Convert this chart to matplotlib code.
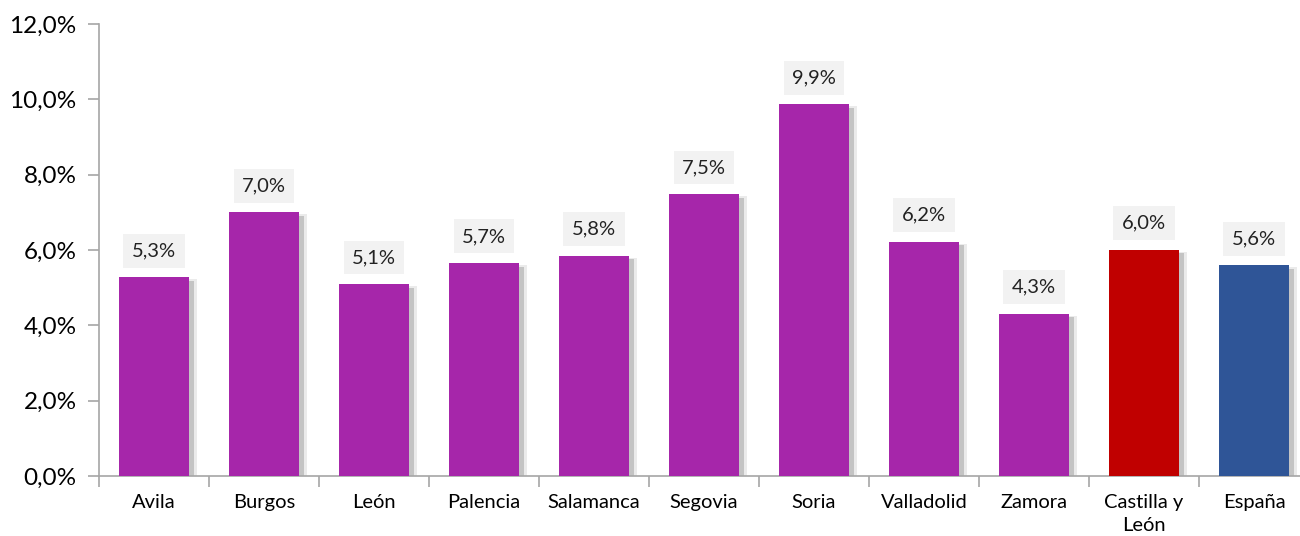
import matplotlib.pyplot as plt
from matplotlib.ticker import FuncFormatter
import numpy as np

# data
provincias = ["Avila", "Burgos", "León", "Palencia", "Salamanca", "Segovia",
              "Soria", "Valladolid", "Zamora", "Castilla y\nLeón", "España"]
valores = [5.28, 7.0, 5.1, 5.66, 5.85, 7.49, 9.87, 6.22, 4.31, 6.01, 5.6]
etiquetas = ["5,3%", "7,0%", "5,1%", "5,7%", "5,8%", "7,5%", "9,9%",
             "6,2%", "4,3%", "6,0%", "5,6%"]
colores = ["#A626AA"] * 9 + ["#C00000", "#2F5597"]

plt.rcParams['font.family'] = ['Lato', 'DejaVu Sans']

fig = plt.figure(figsize=(13, 5.36), dpi=100)
ax = fig.add_axes([99 / 1300, 60 / 536, 1210 / 1300, 452 / 536])

x = np.arange(len(provincias))
w = 0.63

# soft shadow behind bars
ax.bar(x + 0.08, np.array(valores) - 0.05, width=w, color="#ebebeb", zorder=1)
ax.bar(x + 0.05, np.array(valores) - 0.1, width=w, color="#c4c4c4", zorder=2)
ax.bar(x, valores, width=w, color=colores, zorder=3)

for xi, v, t in zip(x, valores, etiquetas):
    ax.text(xi, v + 0.7, t, ha="center", va="center", fontsize=14.5, color="#222222",
            bbox=dict(boxstyle="square,pad=0.42", fc="#f2f2f2", ec="none"), zorder=4)

ax.set_xlim(-0.5, len(provincias) - 0.5)
ax.set_ylim(0, 12)
ax.set_yticks(np.arange(0, 12.1, 2))
ax.yaxis.set_major_formatter(FuncFormatter(lambda v, p: f"{v:.1f}%".replace(".", ",")))

ax.set_xticks(x)
ax.set_xticklabels(provincias, fontsize=14.5, linespacing=1.45)
ax.set_xticks(np.arange(-0.5, len(provincias), 1), minor=True)
ax.tick_params(axis="x", which="major", length=0, pad=13)
ax.tick_params(axis="x", which="minor", length=8, color="#a6a6a6", width=1.2)
ax.tick_params(axis="y", length=8, color="#a6a6a6", width=1.2, labelsize=17.5, pad=8)

for s in ["top", "right"]:
    ax.spines[s].set_visible(False)
for s in ["left", "bottom"]:
    ax.spines[s].set_color("#a6a6a6")
    ax.spines[s].set_linewidth(1.2)

fig.savefig("out.png", dpi=100)
